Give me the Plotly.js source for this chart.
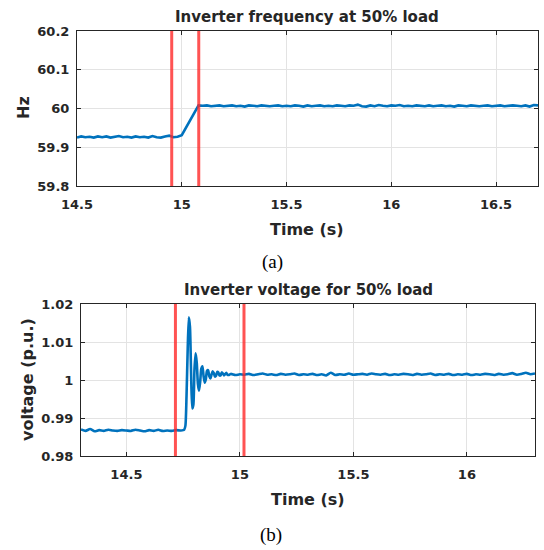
<!DOCTYPE html>
<html>
<head>
<meta charset="utf-8">
<script src="https://cdn.plot.ly/plotly-3.0.1.min.js"></script>
<style>
  html, body { margin: 0; padding: 0; background: #ffffff; }
  #chart { width: 544px; height: 550px; }
</style>
</head>
<body>
<div id="chart"></div>
<script>
// (a) Inverter frequency, 50% load
const freqTime = [
  14.50, 14.52, 14.54, 14.56, 14.58, 14.60, 14.62, 14.64, 14.66, 14.68,
  14.70, 14.72, 14.74, 14.76, 14.78, 14.80, 14.82, 14.84, 14.86, 14.88,
  14.90, 14.92, 14.94, 14.96, 14.98, 15.00, 15.02, 15.04, 15.06, 15.08,
  15.10, 15.12, 15.14, 15.16, 15.18, 15.20, 15.22, 15.24, 15.26, 15.28,
  15.30, 15.32, 15.34, 15.36, 15.38, 15.40, 15.42, 15.44, 15.46, 15.48,
  15.50, 15.52, 15.54, 15.56, 15.58, 15.60, 15.62, 15.64, 15.66, 15.68,
  15.70, 15.72, 15.74, 15.76, 15.78, 15.80, 15.82, 15.84, 15.86, 15.88,
  15.90, 15.92, 15.94, 15.96, 15.98, 16.00, 16.02, 16.04, 16.06, 16.08,
  16.10, 16.12, 16.14, 16.16, 16.18, 16.20, 16.22, 16.24, 16.26, 16.28,
  16.30, 16.32, 16.34, 16.36, 16.38, 16.40, 16.42, 16.44, 16.46, 16.48,
  16.50, 16.52, 16.54, 16.56, 16.58, 16.60, 16.62, 16.64, 16.66, 16.68,
  16.70
];
const freqHz = [
  59.925, 59.928, 59.926, 59.927, 59.925, 59.928, 59.926, 59.928, 59.925, 59.927,
  59.929, 59.926, 59.927, 59.925, 59.928, 59.926, 59.927, 59.925, 59.929, 59.926,
  59.925, 59.928, 59.930, 59.926, 59.927, 59.931, 59.950, 59.970, 59.990, 60.008,
  60.007, 60.008, 60.006, 60.007, 60.008, 60.006, 60.007, 60.008, 60.006, 60.007,
  60.005, 60.008, 60.007, 60.006, 60.008, 60.007, 60.006, 60.007, 60.008, 60.006,
  60.007, 60.006, 60.008, 60.007, 60.005, 60.008, 60.006, 60.007, 60.008, 60.006,
  60.007, 60.006, 60.008, 60.007, 60.006, 60.008, 60.007, 60.010, 60.006, 60.005,
  60.008, 60.006, 60.009, 60.007, 60.006, 60.008, 60.007, 60.009, 60.006, 60.007,
  60.006, 60.008, 60.007, 60.006, 60.008, 60.006, 60.007, 60.008, 60.006, 60.007,
  60.005, 60.008, 60.007, 60.006, 60.008, 60.007, 60.006, 60.007, 60.008, 60.006,
  60.007, 60.008, 60.006, 60.007, 60.008, 60.007, 60.006, 60.008, 60.005, 60.009,
  60.008
];
const freqEvents = [14.952, 15.081];
const freqTicksX = [14.5, 15, 15.5, 16, 16.5];
const freqTicksY = [59.8, 59.9, 60, 60.1, 60.2];

// (b) Inverter voltage, 50% load
const voltTime = [
  14.30, 14.32, 14.34, 14.36, 14.38, 14.40, 14.42, 14.44, 14.46, 14.48,
  14.50, 14.52, 14.54, 14.56, 14.58, 14.60, 14.62, 14.64, 14.66, 14.68,
  14.70, 14.72, 14.74,
  14.750, 14.755, 14.760, 14.765, 14.770, 14.775, 14.780, 14.785, 14.790, 14.795,
  14.800, 14.805, 14.810, 14.815, 14.820, 14.825, 14.830, 14.835, 14.840, 14.845,
  14.850, 14.855, 14.860, 14.865, 14.870, 14.875, 14.880, 14.885, 14.890, 14.895,
  14.900, 14.905, 14.910, 14.915, 14.920, 14.925, 14.930, 14.935, 14.940, 14.945,
  14.950,
  14.96, 14.98, 15.00, 15.02, 15.04, 15.06, 15.08, 15.10, 15.12, 15.14,
  15.16, 15.18, 15.20, 15.22, 15.24, 15.26, 15.28, 15.30, 15.32, 15.34,
  15.36, 15.38, 15.40, 15.42, 15.44, 15.46, 15.48, 15.50, 15.52, 15.54,
  15.56, 15.58, 15.60, 15.62, 15.64, 15.66, 15.68, 15.70, 15.72, 15.74,
  15.76, 15.78, 15.80, 15.82, 15.84, 15.86, 15.88, 15.90, 15.92, 15.94,
  15.96, 15.98, 16.00, 16.02, 16.04, 16.06, 16.08, 16.10, 16.12, 16.14,
  16.16, 16.18, 16.20, 16.22, 16.24, 16.26, 16.28, 16.30
];
const voltPu = [
  0.9870, 0.9866, 0.9871, 0.9865, 0.9868, 0.9866, 0.9869, 0.9867, 0.9866, 0.9868,
  0.9867, 0.9866, 0.9869, 0.9867, 0.9865, 0.9868, 0.9866, 0.9869, 0.9866, 0.9867,
  0.9866, 0.9868, 0.9867,
  0.9868, 0.9870, 0.9880, 0.9960, 1.0080, 1.0165, 1.0140, 1.0020, 0.9925, 0.9935,
  1.0030, 1.0070, 1.0045, 0.9990, 0.9972, 0.9995, 1.0030, 1.0036, 1.0010, 0.9993,
  1.0002, 1.0024, 1.0026, 1.0010, 1.0004, 1.0014, 1.0023, 1.0018, 1.0009, 1.0011,
  1.0021, 1.0020, 1.0012, 1.0012, 1.0020, 1.0017, 1.0012, 1.0015, 1.0019, 1.0014,
  1.0013,
  1.0016, 1.0013, 1.0015, 1.0014, 1.0016, 1.0013, 1.0015, 1.0017, 1.0014, 1.0015,
  1.0013, 1.0016, 1.0014, 1.0015, 1.0017, 1.0013, 1.0015, 1.0014, 1.0016, 1.0013,
  1.0015, 1.0012, 1.0019, 1.0013, 1.0015, 1.0014, 1.0017, 1.0014, 1.0015, 1.0016,
  1.0014, 1.0017, 1.0015, 1.0014, 1.0016, 1.0013, 1.0015, 1.0014, 1.0016, 1.0015,
  1.0013, 1.0016, 1.0014, 1.0015, 1.0017, 1.0013, 1.0015, 1.0014, 1.0016, 1.0013,
  1.0015, 1.0014, 1.0016, 1.0013, 1.0015, 1.0014, 1.0016, 1.0015, 1.0013, 1.0016,
  1.0014, 1.0015, 1.0018, 1.0014, 1.0016, 1.0019, 1.0015, 1.0017
];
const voltEvents = [14.716, 15.018];
const voltTicksX = [14.5, 15, 15.5, 16];
const voltTicksY = [0.98, 0.99, 1, 1.01, 1.02];

const W = 544, H = 550;
const INK = '#262626';
const BLUE = '#0072BD';
const RED = 'rgba(255, 40, 40, 0.8)';
const FONT = 'DejaVu Sans, Arial, sans-serif';

function px(x) { return x / W; }
function py(y) { return 1 - y / H; }

const axisStyle = {
  showline: true, linecolor: INK, linewidth: 1, mirror: 'ticks',
  ticks: 'inside', ticklen: 4, tickwidth: 1, tickcolor: INK,
  showgrid: true, gridcolor: '#e3e3e3', gridwidth: 1, zeroline: false,
  tickfont: { family: FONT, size: 13, color: INK, weight: 'bold' },
  automargin: false, fixedrange: true, tickmode: 'array'
};
const xStyle = Object.assign({}, axisStyle, { ticklabelstandoff: 6 });
const yStyle = Object.assign({}, axisStyle, { ticklabelstandoff: 4 });

const traces = [
  { x: freqTime, y: freqHz, xaxis: 'x', yaxis: 'y', type: 'scatter', mode: 'lines',
    line: { color: BLUE, width: 2.6 }, hoverinfo: 'skip' },
  { x: voltTime, y: voltPu, xaxis: 'x2', yaxis: 'y2', type: 'scatter', mode: 'lines',
    line: { color: BLUE, width: 2.6, shape: 'spline', smoothing: 0.6 }, hoverinfo: 'skip' }
];

const shapes = [];
freqEvents.forEach(t => shapes.push({ type: 'line', xref: 'x', yref: 'y domain',
  x0: t, x1: t, y0: 0, y1: 1, line: { color: RED, width: 3 }, layer: 'above' }));
voltEvents.forEach(t => shapes.push({ type: 'line', xref: 'x2', yref: 'y2 domain',
  x0: t, x1: t, y0: 0, y1: 1, line: { color: RED, width: 3 }, layer: 'above' }));

function label(text, x, y, size, opts) {
  return Object.assign({ text: text, xref: 'paper', yref: 'paper', x: px(x), y: py(y),
    xanchor: 'center', yanchor: 'middle', showarrow: false,
    font: { family: FONT, size: size, color: INK, weight: 'bold' } }, opts || {});
}

const annotations = [
  label('Inverter frequency at 50% load', 307, 17, 15),
  label('Time (s)', 307, 229, 16),
  label('Hz', 24, 108, 16, { textangle: -90 }),
  label('(a)', 272, 262, 18, { font: { family: 'Liberation Serif, Times New Roman, serif', size: 19, color: '#000000' } }),
  label('Inverter voltage for 50% load', 308, 290, 15),
  label('Time (s)', 308, 499, 16),
  label('voltage (p.u.)', 27, 380, 16, { textangle: -90 }),
  label('(b)', 271, 535, 18, { font: { family: 'Liberation Serif, Times New Roman, serif', size: 19, color: '#000000' } })
];

const layout = {
  width: W, height: H,
  margin: { l: 0, r: 0, t: 0, b: 0, pad: 0 },
  paper_bgcolor: '#ffffff', plot_bgcolor: '#ffffff',
  showlegend: false,
  font: { family: FONT, color: INK },
  xaxis: Object.assign({}, xStyle, { domain: [px(77), px(538)], anchor: 'y',
    range: [14.5, 16.7], tickvals: freqTicksX, ticktext: freqTicksX.map(String) }),
  yaxis: Object.assign({}, yStyle, { domain: [py(186), py(31)], anchor: 'x',
    range: [59.8, 60.2], tickvals: freqTicksY, ticktext: freqTicksY.map(String) }),
  xaxis2: Object.assign({}, xStyle, { domain: [px(81), px(535)], anchor: 'y2',
    range: [14.3, 16.3], tickvals: voltTicksX, ticktext: voltTicksX.map(String) }),
  yaxis2: Object.assign({}, yStyle, { domain: [py(456), py(304)], anchor: 'x2',
    range: [0.98, 1.02], tickvals: voltTicksY, ticktext: voltTicksY.map(String) }),
  shapes: shapes,
  annotations: annotations
};

Plotly.newPlot('chart', traces, layout, { staticPlot: true, displayModeBar: false });
</script>
</body>
</html>
